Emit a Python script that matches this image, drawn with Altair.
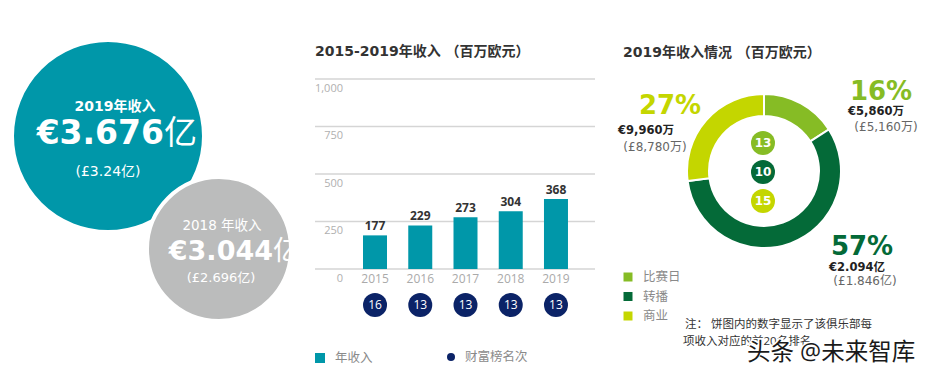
import altair as alt
import pandas as pd

# ---------------- data ----------------
years = ["2015", "2016", "2017", "2018", "2019"]
revenue = [177, 229, 273, 304, 368]
wealth_rank = [16, 13, 13, 13, 13]
y_ticks = [0, 250, 500, 750, 1000]
y_tick_labels = ["0", "250", "500", "750", "1,000"]

segments = ["比赛日", "转播", "商业"]
seg_values = [58.6, 209.4, 99.6]
seg_pct = ["16%", "57%", "27%"]
seg_eur = ["€5,860万", "€2.094亿", "€9,960万"]
seg_gbp = ["(£5,160万)", "(£1.846亿)", "(£8,780万)"]
seg_rank = [13, 10, 15]

bubble_titles = ["2019年收入", "2018 年收入"]
bubble_eur = ["€3.676", "€3.044"]
bubble_unit = ["亿", "亿"]
bubble_gbp = ["(£3.24亿)", "(£2.696亿)"]

title_bar = "2015-2019年收入 （百万欧元）"
title_pie = "2019年收入情况 （百万欧元）"
legend_bar = ["年收入", "财富榜名次"]
note_lines = ["注： 饼图内的数字显示了该俱乐部每", "项收入对应的前20名排名。"]
watermark = "头条 @未来智库"

# ---------------- styles ----------------
TEAL = "#0097A9"
NAVY = "#0B2367"
GRAY = "#BBBCBC"
SEG_COLORS = ["#86BC25", "#046A38", "#C4D600"]
VF = "DejaVu Sans, Noto Sans CJK SC, sans-serif"
OF = "Open Sans, Noto Sans CJK SC, sans-serif"


def txt(rows, **kw):
    df = pd.DataFrame(rows)
    return alt.Chart(df).mark_text(**kw).encode(
        x=alt.X("x:Q", scale=None),
        y=alt.Y("y:Q", scale=None),
        text="t:N",
        size=alt.Size("s:Q", scale=None),
        color=alt.Color("c:N", scale=None),
    )


# ---------------- bubbles ----------------
# vega symbol size = (diameter)^2
bub_layout = [(100, 128, 192 ** 2, TEAL), (211, 241, 144 ** 2, GRAY)]
bub_df = pd.DataFrame([{"x": a, "y": b, "s": s, "c": c} for a, b, s, c in bub_layout])
bubbles = alt.Chart(bub_df).mark_circle(opacity=1, stroke="white", strokeWidth=4).encode(
    x=alt.X("x:Q", scale=None), y=alt.Y("y:Q", scale=None),
    size=alt.Size("s:Q", scale=None), color=alt.Color("c:N", scale=None),
)
bub_texts = alt.layer(
    txt([{"t": bubble_titles[0], "x": 107, "y": 99, "s": 14, "c": "white"}],
        font=VF, fontWeight="bold", baseline="middle"),
    txt([{"t": bubble_titles[1], "x": 214, "y": 218, "s": 13.5, "c": "white"}],
        font=VF, baseline="middle"),
    txt([{"t": bubble_eur[0], "x": 156, "y": 126, "s": 33, "c": "white"},
         {"t": bubble_eur[1], "x": 265, "y": 244, "s": 27, "c": "white"}],
        font=VF, fontWeight="bold", align="right", baseline="middle"),
    txt([{"t": bubble_unit[0], "x": 156, "y": 126, "s": 33, "c": "white"},
         {"t": bubble_unit[1], "x": 265, "y": 244, "s": 27, "c": "white"}],
        font=VF, align="left", baseline="middle"),
    txt([{"t": bubble_gbp[0], "x": 100, "y": 164, "s": 14, "c": "white"},
         {"t": bubble_gbp[1], "x": 213, "y": 270, "s": 13, "c": "white"}],
        font=VF, baseline="middle"),
)

# ---------------- bar chart ----------------
bar_df = pd.DataFrame({"year": years, "revenue": revenue, "rank": wealth_rank})
tick_df = pd.DataFrame({"tick": y_ticks, "label": y_tick_labels})
xs = alt.Scale(domain=years, range=[344.4, 570.6], paddingInner=0, paddingOuter=0)
ys = alt.Scale(domain=[0, 1000], range=[261, 71])

grid = alt.Chart(tick_df).mark_rule(color="#D5D5D5", strokeWidth=1.5).encode(
    y=alt.Y("tick:Q", scale=ys, axis=None), x=alt.value(307), x2=alt.value(587))
ylab = alt.Chart(tick_df).mark_text(font=OF, fontSize=11, color="#B0B0B0", align="right",
                                    baseline="middle", dy=9.5).encode(
    y=alt.Y("tick:Q", scale=ys, axis=None), x=alt.value(335), text="label:N")
bars = alt.Chart(bar_df).mark_bar(size=24, color=TEAL).encode(
    x=alt.X("year:O", scale=xs, axis=None), y=alt.Y("revenue:Q", scale=ys, axis=None))
vlab = alt.Chart(bar_df).mark_text(font=OF, fontWeight="bold", fontSize=12, color="#333333",
                                   baseline="middle", dy=-9.5).encode(
    x=alt.X("year:O", scale=xs, axis=None), y=alt.Y("revenue:Q", scale=ys, axis=None),
    text="revenue:Q")
yearlab = alt.Chart(bar_df).mark_text(font=OF, fontSize=12, color="#AAAAAA",
                                      baseline="middle").encode(
    x=alt.X("year:O", scale=xs, axis=None), y=alt.value(271), text="year:N")
rankdot = alt.Chart(bar_df).mark_circle(size=576, color=NAVY, opacity=1).encode(
    x=alt.X("year:O", scale=xs, axis=None), y=alt.value(297))
ranktxt = alt.Chart(bar_df).mark_text(font=OF, fontSize=12, color="white",
                                      baseline="middle").encode(
    x=alt.X("year:O", scale=xs, axis=None), y=alt.value(297), text="rank:Q")
bar_group = alt.layer(grid, ylab, bars, vlab, yearlab, rankdot, ranktxt)

bar_extra = alt.layer(
    txt([{"t": title_bar, "x": 307, "y": 44, "s": 14, "c": "#333333"}],
        font=VF, fontWeight="bold", align="left", baseline="middle"),
    alt.Chart(pd.DataFrame({"x": [312], "y": [350]})).mark_square(size=100, color=TEAL, opacity=1).encode(
        x=alt.X("x:Q", scale=None), y=alt.Y("y:Q", scale=None)),
    alt.Chart(pd.DataFrame({"x": [443], "y": [349]})).mark_circle(size=64, color=NAVY, opacity=1).encode(
        x=alt.X("x:Q", scale=None), y=alt.Y("y:Q", scale=None)),
    txt([{"t": legend_bar[0], "x": 327, "y": 350, "s": 12.5, "c": "#8A8A8A"},
         {"t": legend_bar[1], "x": 457, "y": 349, "s": 12.5, "c": "#8A8A8A"}],
        font=OF, align="left", baseline="middle"),
)

# ---------------- donut ----------------
seg_df = pd.DataFrame({"segment": segments, "value": seg_values, "idx": [0, 1, 2],
                       "rank": seg_rank})
cs = alt.Scale(domain=segments, range=SEG_COLORS)
arc = alt.Chart(seg_df).mark_arc(radius=77, innerRadius=55, stroke="white", strokeWidth=2).encode(
    theta=alt.Theta("value:Q", stack=True),
    color=alt.Color("segment:N", scale=cs, legend=None),
    order=alt.Order("idx:Q"),
    x=alt.value(756), y=alt.value(163),
)
rys = alt.Scale(domain=segments, type="point", range=[135, 193], padding=0)
segdot = alt.Chart(seg_df).mark_circle(size=576, opacity=1).encode(
    x=alt.value(755), y=alt.Y("segment:N", scale=rys, axis=None),
    color=alt.Color("segment:N", scale=cs, legend=None))
segrank = alt.Chart(seg_df).mark_text(font=VF, fontWeight="bold", fontSize=12, color="white",
                                      baseline="middle").encode(
    x=alt.value(755), y=alt.Y("segment:N", scale=rys, axis=None), text="rank:Q")
donut_group = alt.layer(arc, segdot, segrank)

leg_ys = alt.Scale(domain=segments, type="point", range=[269, 308], padding=0)
legsq = alt.Chart(seg_df).mark_square(size=81, opacity=1).encode(
    x=alt.value(620), y=alt.Y("segment:N", scale=leg_ys, axis=None),
    color=alt.Color("segment:N", scale=cs, legend=None))
legtx = alt.Chart(seg_df).mark_text(font=OF, fontSize=12.5, color="#8A8A8A", align="left",
                                    baseline="middle").encode(
    x=alt.value(635), y=alt.Y("segment:N", scale=leg_ys, axis=None), text="segment:N")
legend_group = alt.layer(legsq, legtx)

pct_pos = [(873, 84), (854, 239), (662, 98)]
eur_pos = [(868, 104), (849, 260), (638, 123)]
gbp_pos = [(878, 119), (857, 273), (647, 139)]
donut_extra = alt.layer(
    txt([{"t": title_pie, "x": 615, "y": 45, "s": 14, "c": "#333333"}],
        font=VF, fontWeight="bold", align="left", baseline="middle"),
    txt([{"t": seg_pct[i], "x": pct_pos[i][0], "y": pct_pos[i][1], "s": 26, "c": SEG_COLORS[i]}
         for i in range(3)], font=VF, fontWeight="bold", baseline="middle"),
    txt([{"t": seg_eur[i], "x": eur_pos[i][0], "y": eur_pos[i][1], "s": 11.5, "c": "#222222"}
         for i in range(3)], font=VF, fontWeight="bold", baseline="middle"),
    txt([{"t": seg_gbp[i], "x": gbp_pos[i][0], "y": gbp_pos[i][1], "s": 12, "c": "#666666"}
         for i in range(3)], font=VF, baseline="middle"),
    txt([{"t": note_lines[0], "x": 677, "y": 317, "s": 11.5, "c": "#333333"},
         {"t": note_lines[1], "x": 675, "y": 334, "s": 11.5, "c": "#333333"}],
        font=OF, align="left", baseline="middle"),
    txt([{"t": watermark, "x": 739, "y": 345, "s": 23.5, "c": "white"}],
        font=OF, align="left", baseline="middle", stroke="white", strokeWidth=3),
    txt([{"t": watermark, "x": 739, "y": 345, "s": 23.5, "c": "#1A1A1A"}],
        font=OF, align="left", baseline="middle"),
)

chart = alt.layer(
    bubbles, bub_texts, bar_group, bar_extra, donut_group, legend_group, donut_extra
).resolve_scale(
    x="independent", y="independent", color="independent", size="independent"
).properties(
    width=913, height=365, autosize=alt.AutoSizeParams(type="none"), padding=0,
    background="white",
).configure_view(stroke=None)

chart.save("out.html", embed_options={"renderer": "svg", "actions": False})
